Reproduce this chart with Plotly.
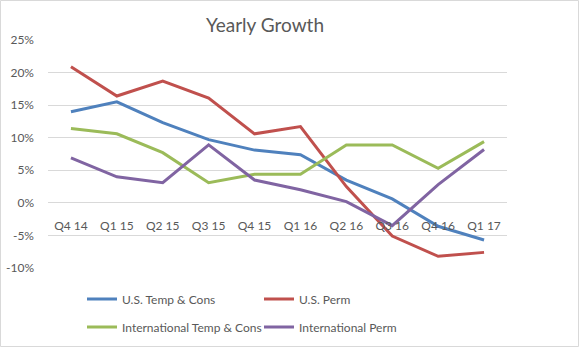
import plotly.graph_objects as go

quarters = ["Q4 14", "Q1 15", "Q2 15", "Q3 15", "Q4 15", "Q1 16", "Q2 16", "Q3 16", "Q4 16", "Q1 17"]
us_temp = [14.0, 15.5, 12.3, 9.7, 8.1, 7.4, 3.5, 0.6, -3.6, -5.7]
us_perm = [20.9, 16.4, 18.7, 16.1, 10.6, 11.7, 2.5, -5.1, -8.2, -7.6]
intl_temp = [11.4, 10.6, 7.7, 3.1, 4.4, 4.4, 8.9, 8.9, 5.3, 9.4]
intl_perm = [6.9, 4.0, 3.1, 8.9, 3.5, 2.0, 0.2, -3.5, 2.8, 8.2]
y_ticks = [-10, -5, 0, 5, 10, 15, 20, 25]

FONT = "Lato"
GREY = "#595959"
YMIN, YMAX = -10, 25
W, H = 580, 348
ML, MR, MT, MB = 48, 73, 40, 80

series = [
    ("U.S. Temp & Cons", us_temp, "#4F81BD", "legend"),
    ("U.S. Perm", us_perm, "#C0504D", "legend"),
    ("International Temp & Cons", intl_temp, "#9BBB59", "legend2"),
    ("International Perm", intl_perm, "#8064A2", "legend2"),
]

fig = go.Figure()
for name, vals, col, lg in series:
    fig.add_trace(go.Scatter(x=quarters, y=vals, name=name, mode="lines",
                             line=dict(color=col, width=3), legend=lg))

pw = W - ML - MR
ph = H - MT - MB
leg_common = dict(orientation="h", font=dict(family=FONT, size=12, color=GREY),
                  entrywidth=132, entrywidthmode="pixels", xanchor="left", yanchor="middle",
                  xref="container", yref="container",
                  bgcolor="rgba(0,0,0,0)", itemclick=False)

fig.update_layout(
    width=W, height=H,
    margin=dict(l=ML, r=MR, t=MT, b=MB, autoexpand=False),
    paper_bgcolor="white", plot_bgcolor="white",
    title=dict(text="Yearly Growth", x=265 / W, xanchor="center", y=1 - 25 / H, yanchor="middle",
               font=dict(family=FONT, size=19, color=GREY)),
    font=dict(family=FONT, size=12, color=GREY),
    xaxis=dict(type="category", range=[-0.5, len(quarters) - 0.5], showgrid=False, showline=False,
               anchor="free", position=(0 - YMIN) / (YMAX - YMIN), ticks="", ticklabelstandoff=14,
               tickfont=dict(family=FONT, size=12, color=GREY)),
    yaxis=dict(range=[YMIN, YMAX], tickvals=y_ticks, ticktext=[f"{v}%" for v in y_ticks],
               gridcolor="#D9D9D9", gridwidth=1, zeroline=False, showline=False, ticks="",
               ticklabelstandoff=13, tickfont=dict(family=FONT, size=12, color=GREY)),
    legend=dict(x=82 / W, y=1 - 299 / H, **leg_common),
    legend2=dict(x=82 / W, y=1 - 327 / H, **leg_common),
    showlegend=True,
    shapes=[dict(type="rect", xref="paper", yref="paper",
                 x0=-(ML - 0.5) / pw, x1=1 + (MR - 1.5) / pw,
                 y0=-(MB - 1.5) / ph, y1=1 + (MT - 0.5) / ph,
                 line=dict(color="#D9D9D9", width=1), layer="below")],
)

fig.write_html("out.html")
